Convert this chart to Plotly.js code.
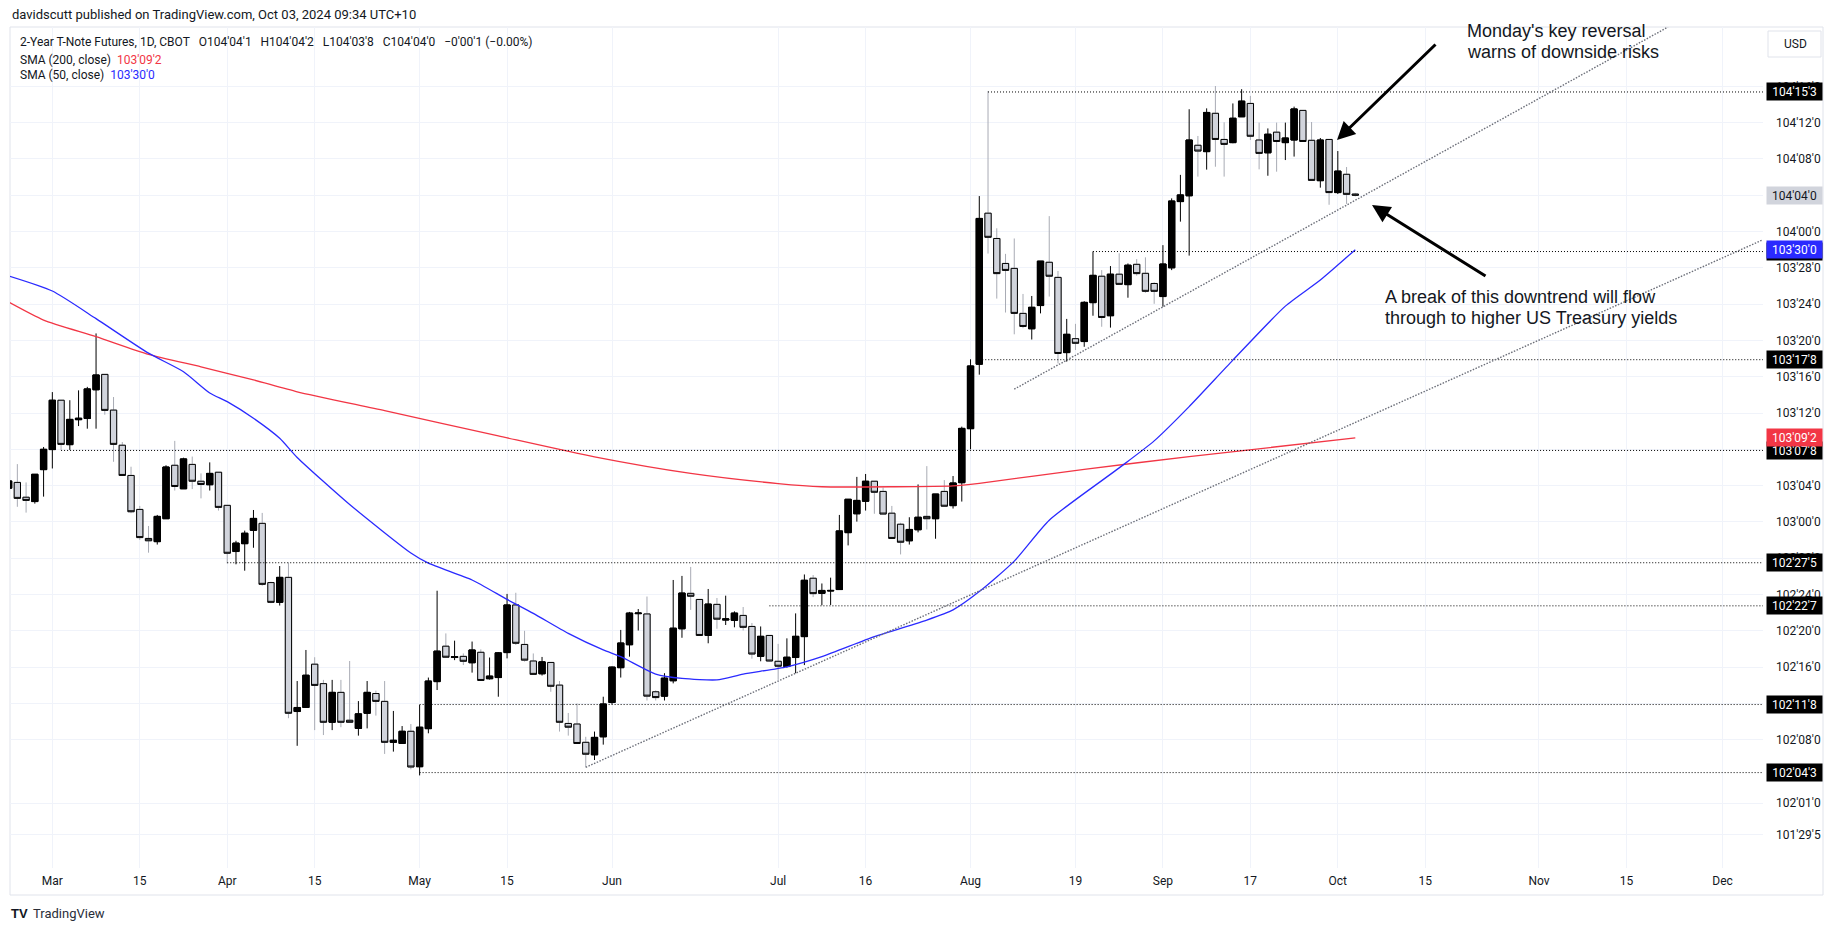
<!DOCTYPE html>
<html><head><meta charset="utf-8">
<script src="https://cdn.plot.ly/plotly-3.0.1.min.js"></script>
<style>html,body{margin:0;padding:0;background:#fff;}#chart{width:1835px;height:931px;}</style>
</head><body><div id="chart"></div>
<script>
// ---------------- DATA ----------------
const dates = [
"2024-02-23","2024-02-26","2024-02-27","2024-02-28","2024-02-29",
"2024-03-01","2024-03-04","2024-03-05","2024-03-06","2024-03-07","2024-03-08",
"2024-03-11","2024-03-12","2024-03-13","2024-03-14","2024-03-15",
"2024-03-18","2024-03-19","2024-03-20","2024-03-21","2024-03-22",
"2024-03-25","2024-03-26","2024-03-27","2024-03-28",
"2024-04-01","2024-04-02","2024-04-03","2024-04-04","2024-04-05",
"2024-04-08","2024-04-09","2024-04-10","2024-04-11","2024-04-12",
"2024-04-15","2024-04-16","2024-04-17","2024-04-18","2024-04-19",
"2024-04-22","2024-04-23","2024-04-24","2024-04-25","2024-04-26",
"2024-04-29","2024-04-30","2024-05-01","2024-05-02","2024-05-03",
"2024-05-06","2024-05-07","2024-05-08","2024-05-09","2024-05-10",
"2024-05-13","2024-05-14","2024-05-15","2024-05-16","2024-05-17",
"2024-05-20","2024-05-21","2024-05-22","2024-05-23","2024-05-24",
"2024-05-28","2024-05-29","2024-05-30","2024-05-31",
"2024-06-03","2024-06-04","2024-06-05","2024-06-06","2024-06-07",
"2024-06-10","2024-06-11","2024-06-12","2024-06-13","2024-06-14",
"2024-06-17","2024-06-18","2024-06-20","2024-06-21",
"2024-06-24","2024-06-25","2024-06-26","2024-06-27","2024-06-28",
"2024-07-01","2024-07-02","2024-07-03","2024-07-05",
"2024-07-08","2024-07-09","2024-07-10","2024-07-11","2024-07-12",
"2024-07-15","2024-07-16","2024-07-17","2024-07-18","2024-07-19",
"2024-07-22","2024-07-23","2024-07-24","2024-07-25","2024-07-26",
"2024-07-29","2024-07-30","2024-07-31","2024-08-01","2024-08-02",
"2024-08-05","2024-08-06","2024-08-07","2024-08-08","2024-08-09",
"2024-08-12","2024-08-13","2024-08-14","2024-08-15","2024-08-16",
"2024-08-19","2024-08-20","2024-08-21","2024-08-22","2024-08-23",
"2024-08-26","2024-08-27","2024-08-28","2024-08-29","2024-08-30",
"2024-09-03","2024-09-04","2024-09-05","2024-09-06",
"2024-09-09","2024-09-10","2024-09-11","2024-09-12","2024-09-13",
"2024-09-16","2024-09-17","2024-09-18","2024-09-19","2024-09-20",
"2024-09-23","2024-09-24","2024-09-25","2024-09-26","2024-09-27",
"2024-09-30","2024-10-01","2024-10-02","2024-10-03"];

const open = [
103.116,103.136,103.085,103.070,103.180,
103.249,103.419,103.266,103.352,103.356,103.455,
103.508,103.385,103.264,103.160,103.043,
102.943,102.932,103.011,103.195,103.114,
103.198,103.140,103.128,103.171,
103.057,102.898,102.925,102.971,102.995,
102.791,102.723,102.809,102.347,102.361,
102.510,102.443,102.310,102.413,102.317,
102.289,102.341,102.409,102.382,102.241,
102.237,102.279,102.157,102.288,102.450,
102.572,102.533,102.537,102.515,102.551,
102.460,102.464,102.550,102.714,102.578,
102.521,102.477,102.516,102.438,102.306,
102.304,102.241,102.198,102.260,
102.378,102.498,102.577,102.684,102.683,
102.415,102.400,102.453,102.632,102.754,
102.733,102.609,102.716,102.662,
102.661,102.678,102.640,102.537,102.609,
102.520,102.502,102.533,102.605,
102.806,102.754,102.762,102.767,102.963,
103.028,103.071,103.140,103.105,103.030,
102.992,102.935,102.973,103.019,103.011,
103.105,103.056,103.135,103.321,103.543,
104.063,103.976,103.890,103.873,103.718,
103.665,103.745,103.894,103.842,103.583,
103.631,103.621,103.755,103.846,103.710,
103.853,103.817,103.887,103.856,103.821,
103.776,103.875,104.103,104.123,
104.297,104.275,104.407,104.317,104.306,
104.395,104.441,104.315,104.271,104.342,
104.306,104.315,104.417,104.314,104.175,
104.317,104.134,104.197,104.129];

const high = [
103.145,103.199,103.136,103.164,103.258,
103.447,103.419,103.419,103.453,103.465,103.649,
103.508,103.430,103.275,103.190,103.055,
102.986,103.024,103.195,103.279,103.221,
103.225,103.167,103.205,103.171,
103.057,102.935,102.970,103.041,103.031,
102.794,102.848,102.860,102.452,102.559,
102.534,102.456,102.456,102.456,102.521,
102.383,102.452,102.419,102.452,102.349,
102.297,102.304,102.370,102.464,102.763,
102.616,102.591,102.547,102.588,102.561,
102.533,102.552,102.752,102.756,102.625,
102.547,102.535,102.516,102.452,102.342,
102.375,102.260,102.278,102.398,
102.502,102.628,102.690,102.700,102.743,
102.420,102.479,102.800,102.814,102.845,
102.733,102.769,102.738,102.746,
102.692,102.707,102.652,102.640,102.609,
102.580,102.599,102.685,102.819,
102.817,102.788,102.808,103.024,103.078,
103.155,103.165,103.140,103.118,103.055,
102.997,103.016,103.129,103.192,103.096,
103.144,103.158,103.328,103.560,104.122,
104.484,104.011,103.923,103.976,103.785,
103.778,103.898,104.053,103.864,103.699,
103.682,103.760,103.931,103.867,103.881,
103.925,103.890,103.905,103.911,103.825,
103.953,104.114,104.195,104.421,
104.329,104.424,104.501,104.376,104.441,
104.490,104.467,104.375,104.355,104.375,
104.375,104.430,104.417,104.377,104.322,
104.317,104.277,104.222,104.133];

const low = [
103.110,103.052,103.032,103.063,103.087,
103.184,103.248,103.248,103.330,103.321,103.321,
103.369,103.207,103.160,103.030,102.938,
102.894,102.922,103.011,103.108,103.114,
103.113,103.081,103.108,103.039,
102.857,102.854,102.832,102.911,102.780,
102.720,102.712,102.324,102.229,102.361,
102.283,102.266,102.283,102.293,102.310,
102.264,102.289,102.333,102.201,102.209,
102.237,102.148,102.127,102.272,102.421,
102.534,102.524,102.507,102.481,102.452,
102.457,102.398,102.530,102.576,102.519,
102.475,102.471,102.415,102.278,102.264,
102.237,102.155,102.180,102.233,
102.372,102.464,102.536,102.626,102.385,
102.385,102.385,102.444,102.601,102.697,
102.609,102.582,102.632,102.645,
102.637,102.626,102.529,102.520,102.520,
102.456,102.498,102.479,102.507,
102.741,102.713,102.714,102.767,102.919,
103.001,103.039,103.028,103.027,102.943,
102.888,102.922,102.964,102.974,102.942,
103.054,103.046,103.070,103.250,103.507,
103.924,103.769,103.721,103.646,103.667,
103.628,103.718,103.776,103.546,103.552,
103.592,103.603,103.710,103.672,103.669,
103.818,103.772,103.848,103.789,103.751,
103.741,103.867,104.034,103.917,
104.189,104.213,104.223,104.189,104.304,
104.395,104.315,104.214,104.192,104.206,
104.246,104.258,104.310,104.176,104.151,
104.092,104.129,104.095,104.121];

const close = [
103.141,103.081,103.074,103.164,103.250,
103.419,103.267,103.353,103.357,103.458,103.506,
103.384,103.267,103.160,103.035,102.946,
102.935,103.019,103.189,103.122,103.217,
103.140,103.129,103.167,103.050,
102.892,102.927,102.961,103.012,102.785,
102.723,102.809,102.341,102.361,102.472,
102.437,102.310,102.413,102.310,102.310,
102.339,102.413,102.382,102.241,102.248,
102.279,102.156,102.293,102.452,102.555,
102.534,102.536,102.520,102.559,102.454,
102.469,102.549,102.714,102.582,102.524,
102.475,102.518,102.434,102.310,102.293,
102.237,102.200,102.258,102.373,
102.500,102.583,102.686,102.686,102.400,
102.395,102.462,102.634,102.755,102.744,
102.609,102.717,102.665,102.666,
102.686,102.637,102.545,102.606,102.521,
102.503,102.534,102.606,102.799,
102.753,102.764,102.764,102.969,103.078,
103.074,103.140,103.102,103.027,102.943,
102.930,102.974,103.016,103.011,103.096,
103.054,103.134,103.322,103.537,104.045,
103.980,103.855,103.866,103.718,103.673,
103.739,103.898,103.846,103.580,103.646,
103.615,103.756,103.849,103.704,103.853,
103.818,103.884,103.855,103.794,103.794,
103.888,104.105,104.126,104.315,
104.277,104.410,104.317,104.300,104.390,
104.449,104.328,104.269,104.335,104.310,
104.322,104.422,104.310,104.176,104.315,
104.134,104.208,104.128,104.125];

// SMA readings
const sma50Dates = ["2024-02-23","2024-03-01","2024-03-08","2024-03-18","2024-03-22","2024-03-27","2024-04-01","2024-04-04","2024-04-09","2024-04-11","2024-04-19","2024-04-30","2024-05-02","2024-05-09","2024-05-15","2024-05-20","2024-05-24","2024-05-31","2024-06-04","2024-06-10","2024-06-13","2024-06-20","2024-06-25","2024-07-02","2024-07-09","2024-07-17","2024-07-25","2024-07-30","2024-08-02","2024-08-08","2024-08-14","2024-08-26","2024-08-30","2024-09-06","2024-09-13","2024-09-23","2024-09-27","2024-10-03"];
const sma50 = [103.847,103.795,103.700,103.581,103.517,103.444,103.414,103.357,103.288,103.222,103.060,102.893,102.858,102.800,102.733,102.685,102.616,102.559,102.536,102.476,102.461,102.456,102.476,102.501,102.536,102.605,102.662,102.697,102.760,102.865,103.006,103.186,103.279,103.397,103.557,103.743,103.833,103.9375];
const sma200Dates = ["2024-02-23","2024-02-29","2024-03-08","2024-03-18","2024-03-26","2024-04-04","2024-04-11","2024-04-25","2024-05-14","2024-05-30","2024-06-14","2024-07-01","2024-07-09","2024-07-19","2024-07-30","2024-08-02","2024-08-20","2024-09-06","2024-10-03"];
const sma200 = [103.757,103.695,103.638,103.577,103.534,103.489,103.448,103.383,103.296,103.224,103.167,103.132,103.121,103.121,103.124,103.133,103.181,103.225,103.289];

// axis ticks (labels hidden under the price boxes are left blank)
const xTickDates = ["2024-03-01","2024-03-15","2024-04-01","2024-04-15","2024-05-01","2024-05-15","2024-06-03","2024-07-01","2024-07-16","2024-08-01","2024-08-19","2024-09-03","2024-09-17","2024-10-01","2024-10-15","2024-11-01","2024-11-15","2024-12-02"];
const xTickText = ["Mar","15","Apr","15","May","15","Jun","Jul","16","Aug","19","Sep","17","Oct","15","Nov","15","Dec"];
const yTickVals = [104.5,104.375,104.25,104.125,104.0,103.875,103.75,103.625,103.5,103.375,103.25,103.125,103.0,102.875,102.75,102.625,102.5,102.375,102.25,102.03125,101.921875];
const yTickText = ["104'16'0","104'12'0","104'08'0","","104'00'0","103'28'0","103'24'0","103'20'0","103'16'0","103'12'0","","103'04'0","103'00'0","102'28'0","102'24'0","102'20'0","102'16'0","","102'08'0","102'01'0","101'29'5"];
const holidays = ["2024-03-29","2024-05-27","2024-06-19","2024-07-04","2024-09-02"];

// drawn horizontal levels
const levelPrices = [104.48047,103.931,103.55859,103.24609,102.85938,102.71094,102.37109,102.13672];
const levelStarts = ["2024-08-05","2024-08-21","2024-08-02","2024-03-04","2024-04-01","2024-06-28","2024-05-01","2024-05-01"];
const levelLabels = ["104'15'3","103'29'8","103'17'8","103'07'8","102'27'5","102'22'7","102'11'8","102'04'3"];
// drawn trend lines
const trendLowerX = ["2024-05-29","2024-12-06 12:00"], trendLowerY = [102.155,103.970];
const trendUpperX = ["2024-08-08","2024-11-21 18:00"], trendUpperY = [103.457,104.704];
// last values
const lastPrice = 104.125, lastSma200 = 103.28906, lastSma50 = 103.9375;
const legendParts = ["2-Year T-Note Futures, 1D, CBOT","O104'04'1","H104'04'2","L104'03'8","C104'04'0","\u22120'00'1 (\u22120.00%)"];

// ---------------- LAYOUT HELPERS ----------------
const L = 10, R = 1763, T = 27, B = 868;
const pw = R - L, ph = B - T;
const px = x => (x - L) / pw;
const py = y => (B - y) / ph;
const UI = "Roboto, 'Liberation Sans', Arial, sans-serif";
const TXT = "#131722";

const bodyHigh = open.map((o, i) => Math.max(o, close[i]));
const bodyLow = open.map((o, i) => Math.min(o, close[i]));

const traces = [
  { type: 'candlestick', x: dates, open: open, high: high, low: low, close: close,
    increasing: { line: { color: '#000000', width: 1 }, fillcolor: '#000000' },
    decreasing: { line: { color: '#a8abb4', width: 1 }, fillcolor: '#d1d4dc' },
    whiskerwidth: 0, hoverinfo: 'skip' },
  { type: 'candlestick', x: dates, open: open, high: bodyHigh, low: bodyLow, close: close,
    increasing: { line: { color: '#000000', width: 1 }, fillcolor: '#000000' },
    decreasing: { line: { color: '#000000', width: 1 }, fillcolor: '#d1d4dc' },
    whiskerwidth: 0, hoverinfo: 'skip' },
  { type: 'scatter', mode: 'lines', x: sma200Dates, y: sma200,
    line: { color: '#f23645', width: 1.3, shape: 'spline', smoothing: 0.6 }, hoverinfo: 'skip' },
  { type: 'scatter', mode: 'lines', x: sma50Dates, y: sma50,
    line: { color: '#2a2aff', width: 1.3, shape: 'spline', smoothing: 0.6 }, hoverinfo: 'skip' }
];

const shapes = [];
levelPrices.forEach((p, i) => {
  shapes.push({ type: 'line', xref: 'x', yref: 'y', x0: levelStarts[i], x1: '2024-12-31', y0: p, y1: p,
    line: { color: '#000000', width: 1, dash: '1px,2px' } });
});
shapes.push({ type: 'line', xref: 'x', yref: 'y', x0: trendLowerX[0], x1: trendLowerX[1], y0: trendLowerY[0], y1: trendLowerY[1],
  line: { color: '#6b6e78', width: 1.4, dash: '1.5px,1.5px' } });
shapes.push({ type: 'line', xref: 'x', yref: 'y', x0: trendUpperX[0], x1: trendUpperX[1], y0: trendUpperY[0], y1: trendUpperY[1],
  line: { color: '#6b6e78', width: 1.4, dash: '1.5px,1.5px' } });
// frame
shapes.push({ type: 'rect', xref: 'paper', yref: 'paper', x0: 0, x1: px(1823), y0: py(895), y1: 1,
  line: { color: '#e0e3eb', width: 1 }, fillcolor: 'rgba(0,0,0,0)', layer: 'below' });
// USD box
shapes.push({ type: 'rect', xref: 'paper', yref: 'paper', x0: px(1768), x1: px(1821), y0: py(57), y1: py(31),
  line: { color: '#e0e3eb', width: 1 }, fillcolor: '#ffffff' });

const ann = [];
function note(text, x, y, size, color, family, extra) {
  ann.push(Object.assign({ xref: 'paper', yref: 'paper', x: px(x), y: py(y), xanchor: 'left', yanchor: 'middle',
    showarrow: false, text: text, font: { size: size, color: color, family: family } }, extra || {}));
}
function priceLabel(text, price, bg, fg) {
  ann.push({ xref: 'paper', yref: 'y', x: px(1766), y: price, xanchor: 'left', yanchor: 'middle', showarrow: false,
    text: text, bgcolor: bg, font: { size: 12, color: fg, family: UI }, width: 53, height: 15, borderpad: 1, align: 'center' });
}

note("davidscutt published on TradingView.com, Oct 03, 2024 09:34 UTC+10", 10, 15, 13, TXT, UI);
note(legendParts.join("\u00a0\u00a0\u00a0"), 18, 42, 12, TXT, UI);
note("SMA (200, close)\u00a0\u00a0<span style='color:#f23645'>103'09'2</span>", 18, 60, 12, TXT, UI);
note("SMA (50, close)\u00a0\u00a0<span style='color:#2a2aff'>103'30'0</span>", 18, 75, 12, TXT, UI);
note("USD", 1782, 44, 12, TXT, UI);
note("<b>TV</b>", 9, 913, 13, TXT, "'Liberation Sans', Arial");
note("TradingView", 31, 913, 13, '#2a2e39', UI);

const NF = "'Liberation Sans', Arial, sans-serif";
note("Monday's key reversal", 1465, 31, 18, TXT, NF);
note("warns of downside risks", 1465, 52, 18, TXT, NF);
note("A break of this downtrend will flow", 1383, 297, 18, TXT, NF);
note("through to higher US Treasury yields", 1383, 318, 18, TXT, NF);

// arrows
ann.push({ xref: 'paper', yref: 'paper', x: px(1337), y: py(140), ax: 100, ay: -97, text: '', showarrow: true,
  arrowhead: 2, arrowsize: 1.2, arrowwidth: 3, arrowcolor: '#000000' });
ann.push({ xref: 'paper', yref: 'paper', x: px(1372), y: py(205), ax: 115, ay: 72, text: '', showarrow: true,
  arrowhead: 2, arrowsize: 1.2, arrowwidth: 3, arrowcolor: '#000000' });

// price labels (order matters: later on top)
levelPrices.forEach((p, i) => priceLabel(levelLabels[i], p, '#000000', '#ffffff'));
priceLabel("104'04'0", lastPrice, '#d1d4dc', TXT);
priceLabel("103'09'2", lastSma200, '#f23645', '#ffffff');
priceLabel("103'30'0", lastSma50, '#2a2aff', '#ffffff');

const layout = {
  width: 1835, height: 931,
  margin: { l: L, r: 1835 - R, t: T, b: 931 - B },
  paper_bgcolor: '#ffffff', plot_bgcolor: '#ffffff',
  showlegend: false, hovermode: false,
  boxgap: 0.28, boxgroupgap: 0,
  xaxis: { type: 'date', range: ['2024-02-23 03:50', '2024-12-06 14:53'],
    rangebreaks: [{ bounds: ['sat', 'mon'] }, { values: holidays }],
    tickmode: 'array', tickvals: xTickDates, ticktext: xTickText,
    showgrid: true, gridcolor: '#f0f3fa', gridwidth: 1, ticks: '', zeroline: false, showline: false,
    tickfont: { family: UI, size: 12, color: TXT }, ticklabelstandoff: 4,
    rangeslider: { visible: false }, fixedrange: true },
  yaxis: { side: 'right', range: [101.8082, 104.7042],
    tickmode: 'array', tickvals: yTickVals, ticktext: yTickText,
    showgrid: true, gridcolor: '#f0f3fa', gridwidth: 1, ticks: '', zeroline: false, showline: false,
    tickfont: { family: UI, size: 12, color: TXT }, ticklabelstandoff: 12, fixedrange: true },
  shapes: shapes,
  annotations: ann
};

Plotly.newPlot('chart', traces, layout, { staticPlot: true, displayModeBar: false });
</script></body></html>
